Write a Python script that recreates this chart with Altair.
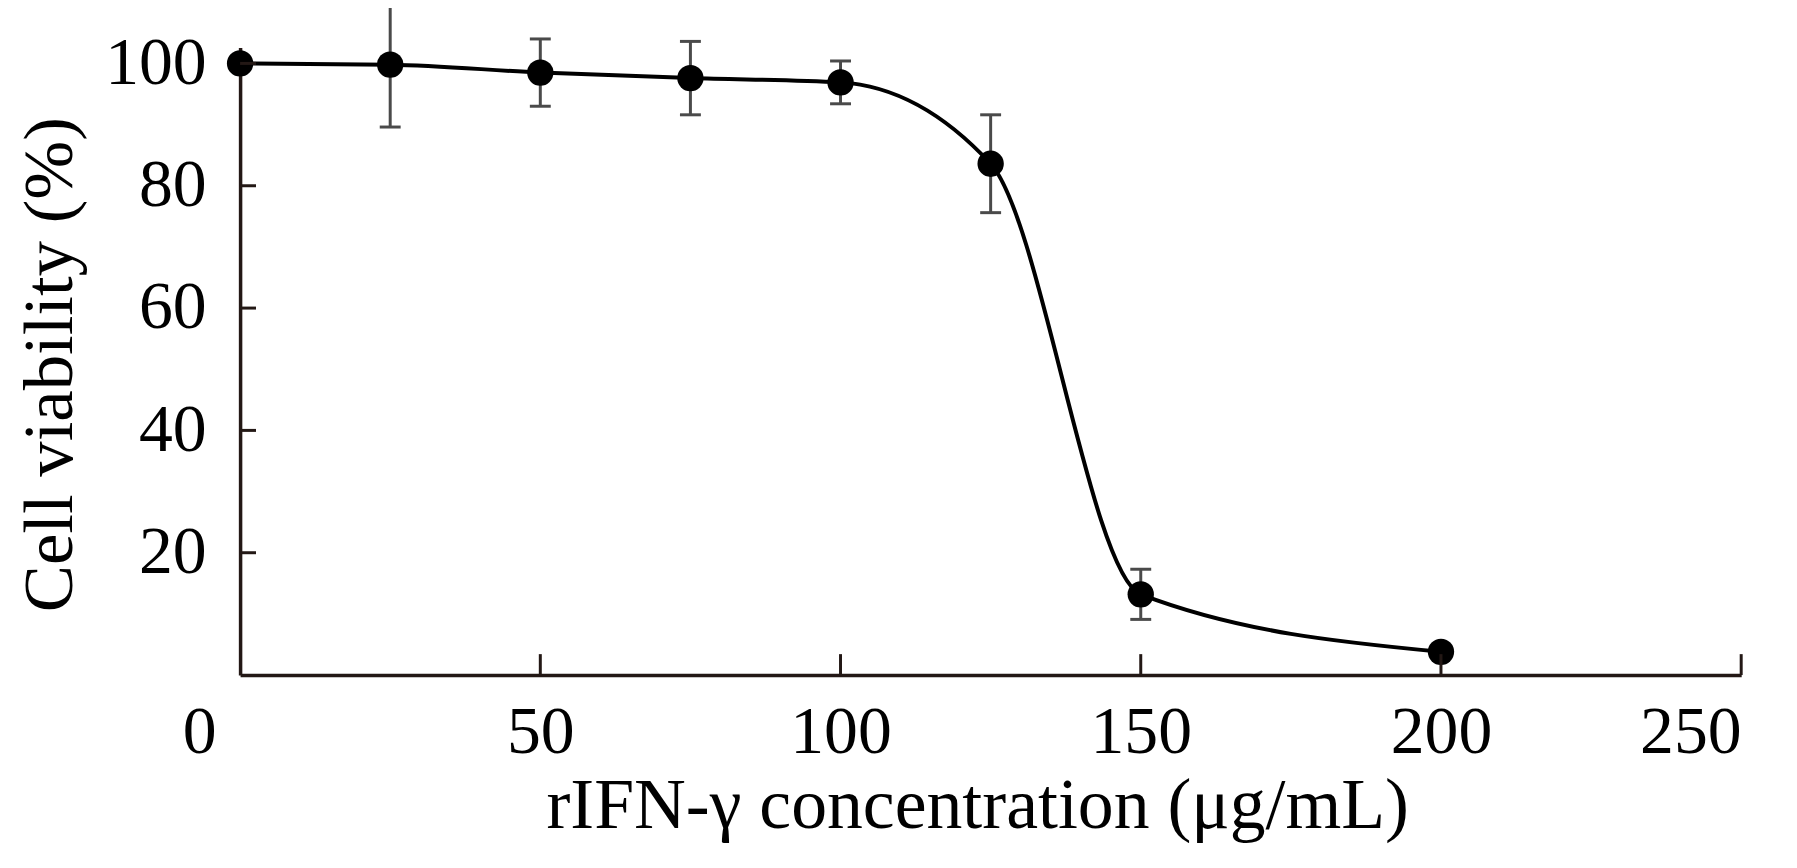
import altair as alt
import pandas as pd

# Data
conc = [0, 25, 50, 75, 100, 125, 150, 200]
viability = [100.0, 99.8, 98.5, 97.6, 96.9, 83.6, 13.2, 3.8]
sd = [0.0, 10.2, 5.5, 6.0, 3.5, 8.0, 4.1, 0.0]

x_ticks = [50, 100, 150, 200, 250]
y_ticks = [20, 40, 60, 80, 100]

df = pd.DataFrame({"conc": conc, "viability": viability, "sd": sd})
df["lo"] = df["viability"] - df["sd"]
df["hi"] = df["viability"] + df["sd"]

W, H = 1507, 630
FONT = "Liberation Serif"
AXIS_COLOR = "#231815"
ERR_COLOR = "#4a4a4a"

xscale = alt.Scale(domain=[0, 250], nice=False, zero=False)
yscale = alt.Scale(domain=[0, 102.6], nice=False, zero=False)

x_axis = alt.Axis(
    values=[0, 50, 100, 150, 200, 250],
    ticks=False, tickSize=0, grid=False,
    domainColor=AXIS_COLOR, domainWidth=3.5,
    labelFont=FONT, labelFontSize=68, labelColor="black",
    labelPadding=24, labelBaseline="top",
    labelOffset={"condition": {"test": "datum.value === 0", "value": -58}, "value": 0},
    title="rIFN-γ concentration (μg/mL)",
    titleFont=FONT, titleFontSize=72, titleFontWeight="normal", titleColor="black",
    titleX=740, titleY=153, titleAlign="center", titleBaseline="alphabetic",
)
y_axis = alt.Axis(
    values=y_ticks,
    ticks=False, tickSize=0, grid=False,
    domainColor=AXIS_COLOR, domainWidth=3.5,
    labelFont=FONT, labelFontSize=68, labelColor="black",
    labelPadding=34, labelBaseline="middle",
    title="Cell viability (%)",
    titleFont=FONT, titleFontSize=71, titleFontWeight="normal", titleColor="black",
    titleAngle=-90, titleX=-190, titleY=318, titleAlign="center", titleBaseline="middle",
)

base = alt.Chart(df)

line = base.mark_line(interpolate="monotone", color="black", strokeWidth=4).encode(
    x=alt.X("conc:Q", scale=xscale, axis=x_axis),
    y=alt.Y("viability:Q", scale=yscale, axis=y_axis),
)

err = base.transform_filter("datum.sd > 0")
stems = err.mark_rule(color=ERR_COLOR, strokeWidth=3).encode(
    x="conc:Q", y="lo:Q", y2="hi:Q"
)
caps_hi = err.mark_tick(orient="horizontal", color=ERR_COLOR, size=21, thickness=3, opacity=1).encode(
    x="conc:Q", y="hi:Q"
)
caps_lo = err.mark_tick(orient="horizontal", color=ERR_COLOR, size=21, thickness=3, opacity=1).encode(
    x="conc:Q", y="lo:Q"
)

points = base.mark_circle(color="black", size=700, opacity=1).encode(
    x="conc:Q", y="viability:Q"
)

xt = alt.Chart(pd.DataFrame({"t": x_ticks})).mark_rule(color=AXIS_COLOR, strokeWidth=3).encode(
    x="t:Q", y=alt.value(H), y2=alt.value(H - 21)
)
yt = alt.Chart(pd.DataFrame({"t": y_ticks})).mark_rule(color=AXIS_COLOR, strokeWidth=3).encode(
    y="t:Q", x=alt.value(0), x2=alt.value(16)
)

chart = alt.layer(line, stems, caps_hi, caps_lo, points, xt, yt).properties(
    width=W, height=H,
    autosize="none",
    padding={"left": 233, "top": 38, "right": 48, "bottom": 185},
    background="white",
).configure_view(stroke=None)

chart.save("out.html", embed_options={"renderer": "svg", "actions": False})
